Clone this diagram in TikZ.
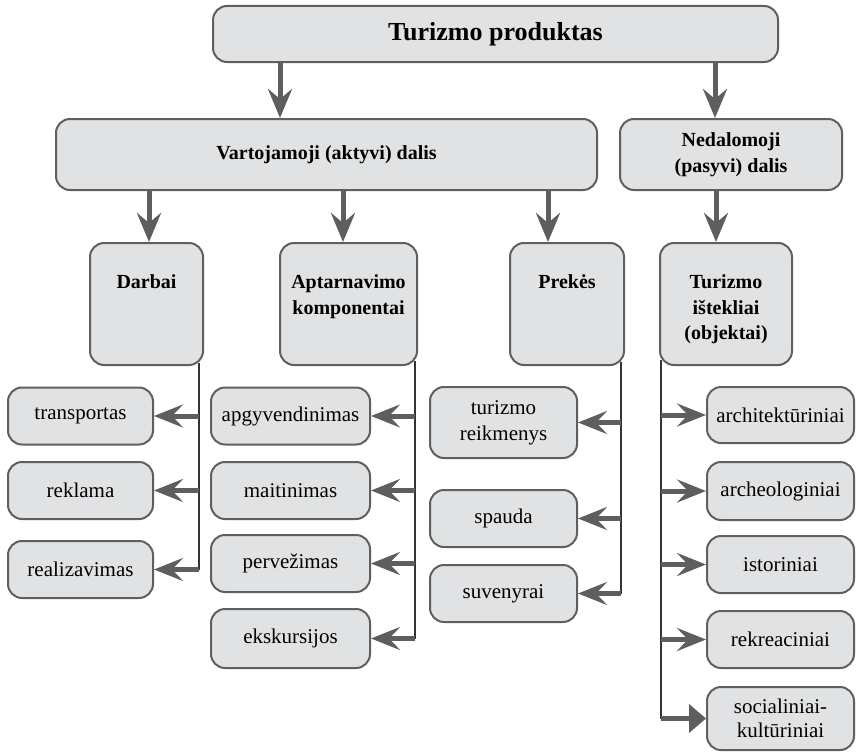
\documentclass[tikz,border=0pt]{standalone}
\usepackage{fontspec}
\setmainfont{Liberation Serif}
\usepackage{color}
\usepackage{tikz}
\usetikzlibrary{arrows.meta}
\definecolor{boxfill}{HTML}{E1E2E4}
\definecolor{boxline}{HTML}{5E5F61}
\definecolor{arrowgray}{HTML}{5D5E60}
\definecolor{stemgray}{HTML}{333335}
\newcommand{\boxhead}[2]{\parbox[c][58pt][t]{#1}{\centering #2}}

\begin{document}
\begin{tikzpicture}[x=1pt,y=-1pt,
    box/.style={draw=boxline,fill=boxfill,line width=2pt,rounded corners=14pt,inner sep=0pt,
        align=center,font=\fontsize{21}{26}\selectfont},
    headbox/.style={box,font=\fontsize{20}{25.5}\selectfont\bfseries},
    leaf/.style={box,minimum width=147pt,minimum height=57pt},
    down/.style={draw=arrowgray,line width=5pt,-{Stealth[length=29pt,width=24pt,inset=10pt]}},
    side/.style={draw=arrowgray,line width=5pt,-{Stealth[length=29pt,width=23pt,inset=11pt]}},
    stem/.style={draw=stemgray,line width=1.6pt}]
        \useasboundingbox (0,0) rectangle (858,752);
        \node[headbox,minimum width=565pt,minimum height=56pt,font=\fontsize{26}{30}\selectfont\bfseries] (prod) at (495.5,34) {Turizmo produktas};
        \node[headbox,minimum width=541pt,minimum height=71pt] (vart) at (326.5,154.5) {Vartojamoji (aktyvi) dalis};
        \node[headbox,minimum width=222pt,minimum height=71pt] (ned) at (731,154.5) {Nedalomoji\\(pasyvi) dalis};
        \coordinate (ta) at (280,0);
        \coordinate (tb) at (715,0);
        \draw[down] (prod.south -| ta) -- (vart.north -| ta);
        \draw[down] (prod.south -| tb) -- (ned.north -| tb);
        \node[headbox,minimum width=113pt,minimum height=122pt] (darb) at (146.5,304) {\boxhead{113pt}{Darbai}};
        \node[headbox,minimum width=137pt,minimum height=122pt] (apt) at (348.5,304) {\boxhead{137pt}{Aptarnavimo\\komponentai}};
        \node[headbox,minimum width=114pt,minimum height=122pt] (prek) at (567,304) {\boxhead{114pt}{Prekės}};
        \node[headbox,minimum width=132pt,minimum height=122pt] (istek) at (726,304) {\boxhead{132pt}{Turizmo\\ištekliai\\(objektai)}};
        \coordinate (da) at (149,0);
        \coordinate (aa) at (343,0);
        \coordinate (pa) at (548,0);
        \coordinate (ia) at (716,0);
        \draw[down] (vart.south -| da) -- (darb.north -| da);
        \draw[down] (vart.south -| aa) -- (apt.north -| aa);
        \draw[down] (vart.south -| pa) -- (prek.north -| pa);
        \draw[down] (ned.south -| ia) -- (istek.north -| ia);
        \node[leaf,minimum width=145pt] (transp) at (80.5,416) {transportas};
        \node[leaf,minimum width=145pt] (rekl) at (80.5,490.5) {reklama};
        \node[leaf,minimum width=145pt] (realiz) at (80.5,569.5) {realizavimas};
        \node[leaf,minimum width=159pt] (apgyv) at (290.5,416) {apgyvendinimas};
        \node[leaf,minimum width=159pt] (maitin) at (290.5,490.5) {maitinimas};
        \node[leaf,minimum width=159pt] (perv) at (290.5,563.5) {pervežimas};
        \node[leaf,minimum width=159pt,minimum height=59pt] (eksk) at (290.5,638.5) {ekskursijos};
        \node[leaf,minimum height=71pt] (reikm) at (503.5,422.5) {turizmo\\reikmenys};
        \node[leaf] (spauda) at (503.5,518.5) {spauda};
        \node[leaf] (suven) at (503.5,593.5) {suvenyrai};
        \node[leaf,minimum height=56pt] (archit) at (780.5,415) {architektūriniai};
        \node[leaf,minimum height=58pt] (archeo) at (780.5,491) {archeologiniai};
        \node[leaf] (istor) at (780.5,564.5) {istoriniai};
        \node[leaf] (rekre) at (780.5,639.5) {rekreaciniai};
        \node[leaf,minimum height=63pt,font=\fontsize{21}{24.5}\selectfont] (social) at (780.5,718.5) {socialiniai-\\kultūriniai};
        \coordinate (sd) at ([xshift=-5pt,yshift=3pt]darb.south east);
        \coordinate (sa) at ([xshift=-3pt,yshift=5pt]apt.south east);
        \coordinate (sp) at ([xshift=-4pt,yshift=4pt]prek.south east);
        \coordinate (si) at ([xshift=2pt,yshift=6pt]istek.south west);
        \draw[stem] (sd) -- (sd |- realiz.east);
        \draw[stem] (sa) -- (sa |- eksk.east);
        \draw[stem] (sp) -- (sp |- suven.east);
        \draw[stem] (si) -- (si |- social.west);
        \draw[side] (sd |- transp.east) -- (transp.east);
        \draw[side] (sd |- rekl.east) -- (rekl.east);
        \draw[side] (sd |- realiz.east) -- (realiz.east);
        \draw[side] (sa |- apgyv.east) -- (apgyv.east);
        \draw[side] (sa |- maitin.east) -- (maitin.east);
        \draw[side] (sa |- perv.east) -- (perv.east);
        \draw[side] (sa |- eksk.east) -- (eksk.east);
        \draw[side] (sp |- reikm.east) -- (reikm.east);
        \draw[side] (sp |- spauda.east) -- (spauda.east);
        \draw[side] (sp |- suven.east) -- (suven.east);
        \draw[side] (si |- archit.west) -- (archit.west);
        \draw[side] (si |- archeo.west) -- (archeo.west);
        \draw[side] (si |- istor.west) -- (istor.west);
        \draw[side] (si |- rekre.west) -- (rekre.west);
        \draw[draw=arrowgray,line width=5pt,-{Triangle[length=17pt,width=28pt]}] (si |- social.west) -- (social.west);
    \end{tikzpicture}
\end{document}
